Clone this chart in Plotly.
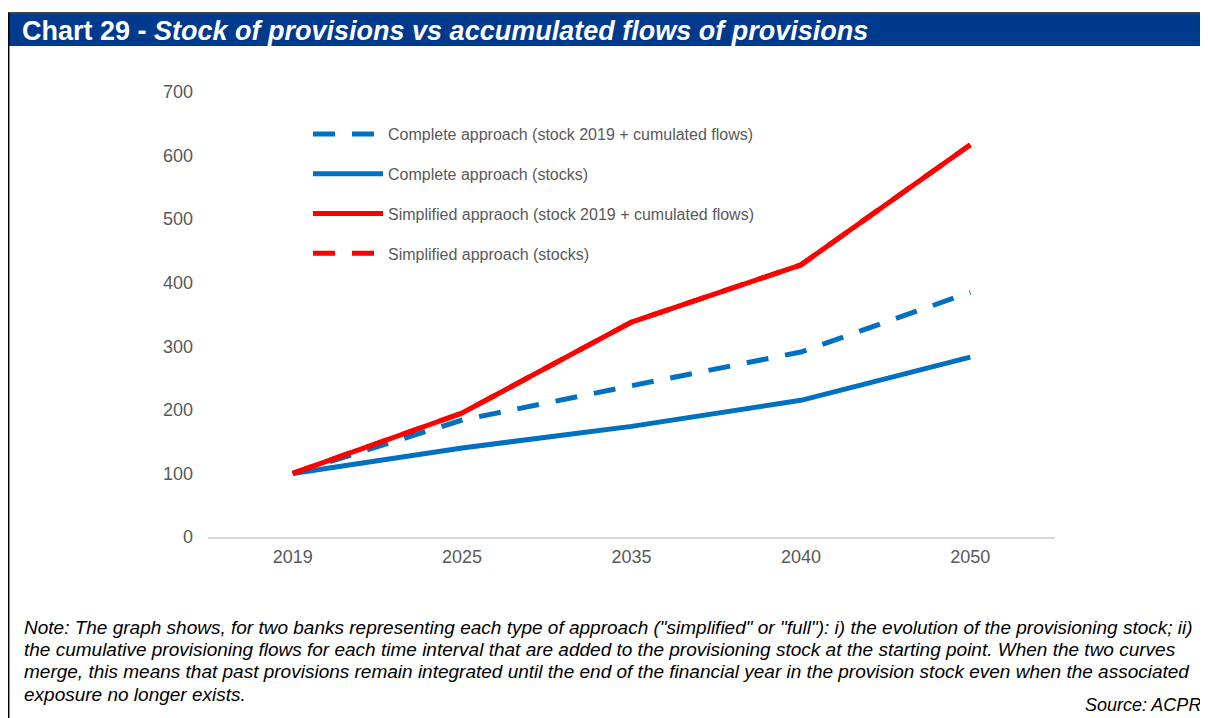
import plotly.graph_objects as go

years = ["2019", "2025", "2035", "2040", "2050"]
complete_flows = [100, 184, 238, 291, 385]
complete_stocks = [100, 140, 174, 215, 283]
simplified_flows = [100, 195, 338, 428, 617]
simplified_stocks = [100, 195, 338, 428, 617]
y_ticks = [0, 100, 200, 300, 400, 500, 600, 700]

names = [
    "Complete approach (stock 2019 + cumulated flows)",
    "Complete approach (stocks)",
    "Simplified appraoch (stock 2019 + cumulated flows)",
    "Simplified approach (stocks)",
]

BLUE = "#0070C0"
RED = "#FF0000"
OFF = 8  # page body margin
W, H = 1208 - OFF, 718 - OFF
L, R, T, B = 208 - OFF, 153, 92 - OFF, 181
PW, PH = W - L - R, H - T - B


def px(sx):
    return (sx - OFF - L) / PW


def py(sy):
    return (H - B - (sy - OFF)) / PH


fig = go.Figure()
series = [
    (complete_flows, BLUE, "22px,17px"),
    (complete_stocks, BLUE, "solid"),
    (simplified_stocks, RED, "22px,17px"),
    (simplified_flows, RED, "solid"),
]
order_names = [names[0], names[1], names[3], names[2]]
legend_rank = [1, 2, 4, 3]
for (vals, col, dash), nm, rk in zip(series, order_names, legend_rank):
    fig.add_trace(go.Scatter(
        x=years, y=vals, mode="lines", name=nm,
        line=dict(color=col, width=5, dash=dash),
        legendgroup=nm, legendrank=rk,
    ))

fig.update_layout(
    width=W, height=H,
    margin=dict(l=L, r=R, t=T, b=B),
    paper_bgcolor="white", plot_bgcolor="white",
    font=dict(family="Liberation Sans, Arial", color="#595959"),
    showlegend=True,
    legend=dict(
        x=px(308), y=py(117), xanchor="left", yanchor="top",
        font=dict(size=16, color="#595959"),
        tracegroupgap=16, itemwidth=70,
        bgcolor="rgba(0,0,0,0)",
    ),
    xaxis=dict(
        type="category", range=[-0.5, 4.5], showgrid=False, showline=True,
        linecolor="#d9d9d9", linewidth=1.5, ticks="",
        tickfont=dict(size=18, color="#595959"), ticklabelstandoff=3,
    ),
    yaxis=dict(
        range=[0, 700], tickvals=y_ticks, showgrid=False, showline=False,
        zeroline=False, ticks="", tickfont=dict(size=18, color="#595959"),
        ticklabelstandoff=14,
    ),
)

# frame + title bar
fig.add_shape(type="rect", xref="paper", yref="paper",
              x0=px(8), x1=px(1220), y0=py(14), y1=py(46),
              fillcolor="#003A8C", line=dict(width=0), layer="below")
fig.add_shape(type="line", xref="paper", yref="paper",
              x0=px(8.7), x1=px(8.7), y0=py(13), y1=py(730),
              line=dict(color="black", width=1.5))
fig.add_shape(type="line", xref="paper", yref="paper",
              x0=px(8), x1=px(1220), y0=py(13), y1=py(13),
              line=dict(color="black", width=1.5))

fig.add_annotation(
    xref="paper", yref="paper", x=px(20), y=py(31), xanchor="left", yanchor="middle",
    text="<b>Chart 29 - <i>Stock of provisions vs accumulated flows of provisions</i></b>",
    showarrow=False, font=dict(size=27, color="white", family="Liberation Sans, Arial"),
)

note_lines = [
    "Note: The graph shows, for two banks representing each type of approach (\"simplified\" or \"full\"): i) the evolution of the provisioning stock; ii)",
    "the cumulative provisioning flows for each time interval that are added to the provisioning stock at the starting point. When the two curves",
    "merge, this means that past provisions remain integrated until the end of the financial year in the provision stock even when the associated",
    "exposure no longer exists.",
]
for i, ln in enumerate(note_lines):
    fig.add_annotation(
        xref="paper", yref="paper", x=px(22), y=py(627 + 22.4 * i),
        xanchor="left", yanchor="middle", text="<i>" + ln + "</i>",
        showarrow=False, font=dict(size=19, color="black"),
    )
fig.add_annotation(
    xref="paper", yref="paper", x=px(1203), y=py(705),
    xanchor="right", yanchor="middle", text="<i>Source: ACPR</i>",
    showarrow=False, font=dict(size=18, color="black"),
)

fig.write_html("out.html")
